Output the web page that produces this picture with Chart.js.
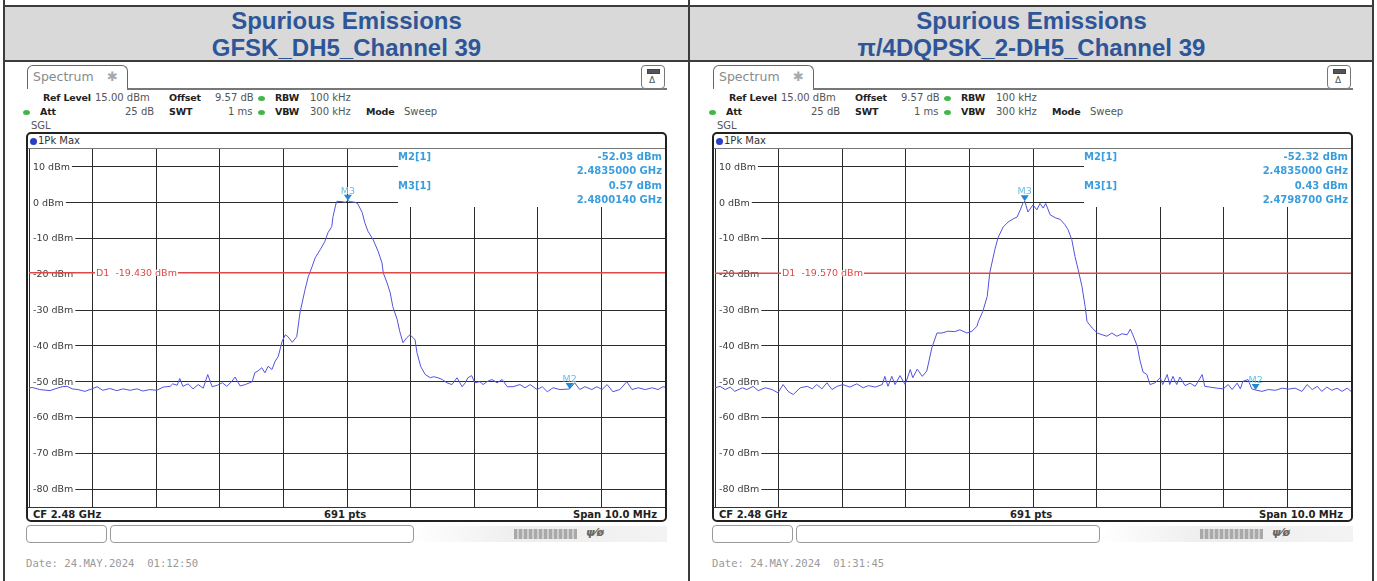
<!DOCTYPE html>
<html>
<head>
<meta charset="utf-8">
<script src="https://cdn.jsdelivr.net/npm/chart.js@4.4.1/dist/chart.umd.min.js"></script>
<style>
html, body { margin: 0; padding: 0; background: #fff; }
body { width: 1377px; height: 581px; position: relative; overflow: hidden; font-family: "DejaVu Sans", sans-serif; }
.vline { position: absolute; top: 0; width: 2px; height: 581px; background: #3c3c3c; }
.hline { position: absolute; left: 3px; width: 1371px; height: 2px; background: #3c3c3c; }
.head { position: absolute; top: 7px; left: 5px; width: 1367px; height: 54px; background: #d9d9d9; }
.title { position: absolute; top: 7px; width: 683px; font: bold 24px "Liberation Sans", Arial, sans-serif; color: #2e5597; text-align: center; line-height: 27px; }
.panel { position: absolute; top: 0; width: 686px; height: 581px; }
.panel * { position: absolute; box-sizing: border-box; }
.tab { left: 27px; top: 65px; width: 101px; height: 24px; border: 1.5px solid #666; border-bottom: none; border-radius: 6px 6px 0 0; background: #fff; }
.tab span { left: 5px; top: 4px; font-size: 12.5px; color: #8a8a8a; line-height: 14px; }
.tab i { left: 79px; top: 3px; font-style: normal; font-size: 13px; color: #a8a8a8; }
.tabline { left: 127px; top: 88px; width: 540px; height: 1.5px; background: #777; }
.btn { left: 641px; top: 65px; width: 24px; height: 24px; border: 1px solid #777; border-radius: 4px; background: #fff; }
.btn b { left: 5px; top: 3px; width: 13px; height: 5px; background: #555; border: 1px solid #444; }
.btn u { left: 7px; top: 9px; font-size: 9px; text-decoration: none; color: #555; line-height: 10px; }
.t { font-size: 10px; line-height: 12px; color: #555; white-space: pre; }
.t.b { font-weight: bold; font-size: 9.5px; letter-spacing: -0.2px; color: #222; }
.dot { width: 7px; height: 5px; border-radius: 50%; background: #43b649; }
.frame { left: 26px; top: 132px; width: 641px; height: 390px; border: 2px solid #222; border-radius: 5px; }
.bdot { left: 30px; top: 138px; width: 7px; height: 7px; border-radius: 50%; background: #2a3ec8; }
.rule { left: 28px; width: 637px; height: 1px; background: #777; }
.plot { left: 29px; top: 149px; }
.bt { font-weight: bold; font-size: 10px; line-height: 12px; color: #222; white-space: pre; top: 509px; }
.sbox { top: 525px; height: 18px; border: 1px solid #9a9a9a; border-radius: 4px; background: #fff; }
.band { left: 414px; top: 526px; width: 253px; height: 16px; background: linear-gradient(to right, #fff, #eee 40%, #f3f3f3); }
.bars { left: 514px; top: 529px; width: 63px; height: 10px; background: repeating-linear-gradient(to right, #a9a9a9 0 3px, #cfcfcf 3px 5px); }
.icon { left: 586px; top: 527px; font: italic bold 11px "DejaVu Sans"; color: #666; line-height: 12px; }
.date { left: 26px; top: 557px; font: 10.6px "DejaVu Sans Mono", monospace; color: #9a9a9a; white-space: pre; line-height: 12px; }
</style>
</head>
<body>
<div class="head"></div>
<div class="title" style="left:5px">Spurious Emissions<br>GFSK_DH5_Channel 39</div>
<div class="title" style="left:690px">Spurious Emissions<br>π/4DQPSK_2-DH5_Channel 39</div>
<div class="hline" style="top:5px"></div>
<div class="hline" style="top:60px"></div>
<div class="vline" style="left:3px"></div>
<div class="vline" style="left:688px"></div>
<div class="vline" style="left:1372px"></div>

<div class="panel" id="panelA" style="left:0"></div>
<div class="panel" id="panelB" style="left:686px"></div>

<script>
// span: CF 2.48 GHz, 10 MHz wide, ref level 15 dBm, 10 dB/div
const spanStart = 2475;     // MHz
const spanStop = 2485;      // MHz
const refLevel = 15;        // dBm
const bottomLevel = -85;    // dBm
const freqTicks = [2475, 2476, 2477, 2478, 2479, 2480, 2481, 2482, 2483, 2484, 2485];
const levelTicks = [10, 0, -10, -20, -30, -40, -50, -60, -70, -80];

// GFSK DH5, channel 39 (MHz / dBm)
const freqGfsk = [
  2475.00, 2475.05, 2475.17, 2475.33, 2475.41, 2475.52, 2475.60, 2475.68, 2475.77, 2475.88,
  2475.99, 2476.07, 2476.16, 2476.27, 2476.38, 2476.48, 2476.59, 2476.70, 2476.79, 2476.90,
  2477.01, 2477.11, 2477.22, 2477.26, 2477.33, 2477.37, 2477.42, 2477.50, 2477.58, 2477.66,
  2477.74, 2477.81, 2477.88, 2477.96, 2478.04, 2478.11, 2478.19, 2478.24, 2478.32, 2478.40,
  2478.51, 2478.55, 2478.60, 2478.66, 2478.71, 2478.76, 2478.82, 2478.87, 2478.92, 2478.98,
  2479.03, 2479.07, 2479.14, 2479.21, 2479.26, 2479.34, 2479.39, 2479.45, 2479.50, 2479.58,
  2479.65, 2479.70, 2479.76, 2479.78, 2479.83, 2479.84, 2479.92, 2479.97, 2480.014, 2480.05,
  2480.13, 2480.17, 2480.24, 2480.28, 2480.33, 2480.41, 2480.49, 2480.55, 2480.57, 2480.63,
  2480.68, 2480.72, 2480.79, 2480.83, 2480.88, 2480.94, 2480.99, 2481.04, 2481.07, 2481.10,
  2481.16, 2481.23, 2481.31, 2481.36, 2481.43, 2481.50, 2481.57, 2481.65, 2481.73, 2481.81,
  2481.86, 2481.90, 2481.96, 2482.01, 2482.09, 2482.14, 2482.20, 2482.28, 2482.36, 2482.44,
  2482.52, 2482.61, 2482.72, 2482.80, 2482.88, 2482.99, 2483.07, 2483.15, 2483.24, 2483.35,
  2483.50, 2483.58, 2483.66, 2483.74, 2483.85, 2483.93, 2484.01, 2484.09, 2484.18, 2484.29,
  2484.40, 2484.48, 2484.58, 2484.69, 2484.80, 2484.89, 2484.97, 2485.00
];
const levelGfsk = [
  -51.8, -51.6, -52.2, -52.5, -52.0, -51.4, -51.3, -52.0, -52.2, -52.7,
  -52.0, -51.4, -52.4, -51.9, -52.5, -52.0, -52.4, -52.0, -52.6, -52.2,
  -52.4, -51.5, -51.3, -50.6, -51.0, -49.1, -51.3, -50.6, -52.0, -50.8,
  -51.8, -48.0, -51.4, -51.0, -50.3, -51.3, -49.9, -48.7, -51.2, -50.8,
  -50.0, -47.5, -47.0, -46.1, -47.5, -45.7, -46.6, -44.3, -42.9, -38.7,
  -36.9, -37.4, -39.0, -37.4, -30.8, -24.3, -20.7, -17.9, -15.4, -13.1,
  -10.9, -8.4, -6.7, -3.9, 0.0, 0.4, 0.3, 0.1, 0.57, 0.3,
  0.1, -0.3, -2.8, -5.6, -8.0, -10.3, -13.6, -16.8, -19.6, -22.4,
  -25.2, -29.0, -32.7, -36.0, -39.1, -37.7, -36.9, -37.7, -38.3, -41.9,
  -45.8, -48.0, -48.9, -48.6, -48.9, -49.4, -50.3, -50.8, -48.9, -51.4,
  -50.3, -48.9, -48.3, -50.3, -50.0, -50.8, -50.0, -49.4, -50.3, -49.4,
  -51.4, -51.4, -50.8, -51.7, -50.8, -52.2, -51.4, -52.8, -51.7, -52.2,
  -52.03, -50.3, -52.2, -51.4, -52.2, -51.4, -52.2, -50.8, -52.8, -52.2,
  -50.0, -52.2, -51.7, -52.2, -51.7, -52.2, -51.4, -51.5
];

// pi/4 DQPSK 2-DH5, channel 39 (MHz / dBm)
const freqDqpsk = [
  2475.00, 2475.08, 2475.16, 2475.24, 2475.31, 2475.43, 2475.50, 2475.60, 2475.68, 2475.79,
  2475.90, 2475.99, 2476.07, 2476.15, 2476.23, 2476.34, 2476.45, 2476.53, 2476.60, 2476.68,
  2476.76, 2476.84, 2476.92, 2477.01, 2477.12, 2477.23, 2477.33, 2477.41, 2477.52, 2477.63,
  2477.67, 2477.72, 2477.78, 2477.83, 2477.91, 2477.99, 2478.07, 2478.11, 2478.18, 2478.26,
  2478.33, 2478.41, 2478.49, 2478.57, 2478.66, 2478.77, 2478.85, 2478.96, 2479.04, 2479.12,
  2479.14, 2479.21, 2479.28, 2479.32, 2479.40, 2479.45, 2479.53, 2479.61, 2479.69, 2479.75,
  2479.80, 2479.84, 2479.87, 2479.92, 2480.00, 2480.06, 2480.11, 2480.16, 2480.20, 2480.27,
  2480.35, 2480.43, 2480.50, 2480.55, 2480.61, 2480.66, 2480.71, 2480.77, 2480.82, 2480.85,
  2480.93, 2481.01, 2481.09, 2481.16, 2481.24, 2481.32, 2481.40, 2481.48, 2481.53, 2481.57,
  2481.64, 2481.68, 2481.73, 2481.79, 2481.84, 2481.92, 2482.00, 2482.04, 2482.11, 2482.15,
  2482.20, 2482.26, 2482.31, 2482.39, 2482.47, 2482.55, 2482.66, 2482.70, 2482.78, 2482.89,
  2482.99, 2483.07, 2483.13, 2483.21, 2483.26, 2483.30, 2483.38, 2483.44, 2483.50, 2483.60,
  2483.70, 2483.81, 2483.92, 2484.01, 2484.12, 2484.23, 2484.31, 2484.39, 2484.47, 2484.54,
  2484.62, 2484.70, 2484.78, 2484.86, 2484.94, 2485.00
];
const levelDqpsk = [
  -51.7, -51.3, -52.2, -51.5, -52.7, -51.7, -52.2, -51.3, -52.5, -51.7,
  -52.2, -53.1, -50.8, -52.7, -53.6, -51.7, -51.3, -52.0, -50.8, -52.0,
  -50.3, -52.2, -51.3, -50.8, -51.5, -50.6, -51.7, -51.1, -51.5, -50.8,
  -48.5, -51.3, -48.5, -50.8, -48.3, -50.8, -46.6, -48.9, -46.5, -48.5,
  -47.0, -40.5, -36.4, -36.4, -35.9, -36.0, -35.5, -36.4, -35.9, -34.5,
  -33.2, -30.4, -26.2, -19.6, -13.1, -9.8, -6.8, -5.4, -4.5, -4.0,
  -2.0, -0.2, 0.43, -2.6, -0.6, -2.0, -0.2, -1.5, -0.2, -3.4,
  -4.2, -4.7, -6.1, -7.5, -10.3, -15.0, -18.7, -23.4, -29.0, -33.2,
  -35.0, -36.4, -36.9, -37.3, -36.4, -37.3, -36.6, -36.9, -35.3, -36.9,
  -40.1, -43.9, -47.3, -48.0, -50.8, -50.3, -48.9, -50.8, -48.0, -50.8,
  -48.5, -50.8, -48.7, -51.1, -50.4, -51.3, -48.0, -51.3, -51.5, -51.8,
  -52.0, -50.8, -52.2, -50.4, -52.0, -49.9, -49.4, -52.0, -52.32, -52.7,
  -52.2, -52.4, -51.8, -52.1, -51.8, -52.7, -50.8, -52.2, -51.3, -52.7,
  -51.5, -52.4, -51.8, -52.7, -51.8, -52.7
];

// markers: M2 at the band edge, M3 at the peak
const markerNames = ['M2', 'M3'];
const markerFreqGfsk = [2483.5, 2480.014];
const markerLevelGfsk = [-52.03, 0.57];
const markerFreqDqpsk = [2483.5, 2479.87];
const markerLevelDqpsk = [-52.32, 0.43];
const displayLineGfsk = -19.43;
const displayLineDqpsk = -19.57;

// instrument header / footer around each trace window
function panelHtml(canvasId, timeText) {
  return `
  <div class="tab"><span>Spectrum</span><i>✱</i></div>
  <div class="tabline"></div>
  <div class="btn"><b></b><u>Δ</u></div>
  <div class="t b" style="left:43px;top:92px">Ref Level</div>
  <div class="t" style="left:95px;top:92px">15.00 dBm</div>
  <div class="t b" style="left:169px;top:92px">Offset</div>
  <div class="t" style="left:215px;top:92px">9.57 dB</div>
  <div class="dot" style="left:258px;top:96px"></div>
  <div class="t b" style="left:275px;top:92px">RBW</div>
  <div class="t" style="left:310px;top:92px">100 kHz</div>
  <div class="dot" style="left:23px;top:110px"></div>
  <div class="t b" style="left:40px;top:106px">Att</div>
  <div class="t" style="left:125px;top:106px">25 dB</div>
  <div class="t b" style="left:169px;top:106px">SWT</div>
  <div class="t" style="left:228px;top:106px">1 ms</div>
  <div class="dot" style="left:258px;top:110px"></div>
  <div class="t b" style="left:275px;top:106px">VBW</div>
  <div class="t" style="left:310px;top:106px">300 kHz</div>
  <div class="t b" style="left:366px;top:106px">Mode</div>
  <div class="t" style="left:404px;top:106px">Sweep</div>
  <div class="t" style="left:31px;top:120px">SGL</div>
  <div class="frame"></div>
  <div class="bdot"></div>
  <div class="t" style="left:38px;top:135px;color:#333">1Pk Max</div>
  <div class="rule" style="top:148px"></div>
  <canvas class="plot" id="${canvasId}" width="636" height="358"></canvas>
  <div class="rule" style="top:507px;background:#333"></div>
  <div class="bt" style="left:33px">CF 2.48 GHz</div>
  <div class="bt" style="left:324px">691 pts</div>
  <div class="bt" style="left:573px">Span 10.0 MHz</div>
  <div class="sbox" style="left:26px;width:81px"></div>
  <div class="sbox" style="left:110px;width:304px"></div>
  <div class="band"></div>
  <div class="bars"></div>
  <div class="icon">ψ⁄ø</div>
  <div class="date">Date: 24.MAY.2024  ${timeText}</div>`;
}

document.getElementById('panelA').innerHTML = panelHtml('specA', '01:12:50');
document.getElementById('panelB').innerHTML = panelHtml('specB', '01:31:45');

// level labels, D1 line, markers and marker table drawn onto the trace window
function rsOverlay(markers, d1) {
  return {
    id: 'rsOverlay',
    beforeDatasetsDraw(chart) {
      const { ctx, chartArea: a, scales: { y } } = chart;
      ctx.save();
      // the marker table covers the upper right part of the grid
      ctx.fillStyle = '#fff';
      ctx.fillRect(369, a.top, a.right - 369, 58);
      ctx.font = '9.5px "DejaVu Sans"';
      ctx.textBaseline = 'middle';
      levelTicks.forEach(v => {
        const py = y.getPixelForValue(v);
        const txt = v + ' dBm';
        const w = ctx.measureText(txt).width;
        ctx.fillStyle = '#fff';
        ctx.fillRect(a.left + 1, py - 5, w + 5, 10);
        ctx.fillStyle = '#3a3a3a';
        ctx.fillText(txt, a.left + 4, py + 0.5);
      });
      ctx.restore();
    },
    afterDatasetsDraw(chart) {
      const { ctx, chartArea: a, scales: { x, y } } = chart;
      ctx.save();
      const dy = y.getPixelForValue(d1) + 0.5;
      ctx.strokeStyle = '#e04848';
      ctx.lineWidth = 1.6;
      ctx.beginPath();
      ctx.moveTo(a.left, dy);
      ctx.lineTo(a.right, dy);
      ctx.stroke();
      ctx.font = '9.5px "DejaVu Sans"';
      ctx.textBaseline = 'middle';
      const d1txt = 'D1  ' + d1.toFixed(3) + ' dBm';
      const w = ctx.measureText(d1txt).width;
      ctx.fillStyle = '#fff';
      ctx.fillRect(66, dy - 3, w + 2, 6);
      ctx.fillStyle = '#e04848';
      ctx.fillText(d1txt, 67, dy + 0.5);

      markers.forEach(m => {
        const px = x.getPixelForValue(m.f);
        const py = y.getPixelForValue(m.v);
        ctx.fillStyle = '#1e8ad2';
        ctx.beginPath();
        ctx.moveTo(px - 4, py - 6);
        ctx.lineTo(px + 4, py - 6);
        ctx.lineTo(px, py);
        ctx.closePath();
        ctx.fill();
        ctx.fillStyle = '#66bfe6';
        ctx.textAlign = 'center';
        ctx.textBaseline = 'alphabetic';
        ctx.font = '9.5px "DejaVu Sans"';
        ctx.fillText(m.name, px, py - 7);
      });

      ctx.font = 'bold 10px "DejaVu Sans"';
      ctx.fillStyle = '#3a9ede';
      ctx.textBaseline = 'middle';
      let row = a.top + 8;
      markers.forEach(m => {
        ctx.textAlign = 'left';
        ctx.fillText(m.name + '[1]', 369, row);
        ctx.textAlign = 'right';
        ctx.fillText(m.v.toFixed(2) + ' dBm', a.right - 3, row);
        ctx.fillText((m.f / 1000).toFixed(7) + ' GHz', a.right - 3, row + 14);
        row += 29;
      });
      ctx.restore();
    }
  };
}

function drawSpectrum(canvasId, freqs, levels, mFreqs, mLevels, d1) {
  const pts = freqs.map((f, i) => ({ x: f, y: levels[i] }));
  const markers = markerNames.map((n, i) => ({ name: n, f: mFreqs[i], v: mLevels[i] }));
  const gridLine = { color: '#2c2c2c', lineWidth: 1, drawTicks: false };
  // the display line sits on top of the nearest level line, which is left out
  const levelGrid = {
    color: c => (c.tick && Math.abs(c.tick.value - d1) < 1) ? 'rgba(0,0,0,0)' : '#2c2c2c',
    lineWidth: 1,
    drawTicks: false
  };
  return new Chart(document.getElementById(canvasId), {
    type: 'line',
    data: {
      datasets: [{
        data: pts,
        borderColor: '#5252e0',
        borderWidth: 1,
        pointRadius: 0,
        tension: 0,
        fill: false
      }]
    },
    options: {
      responsive: false,
      animation: false,
      layout: { padding: 0 },
      plugins: { legend: { display: false }, tooltip: { enabled: false } },
      scales: {
        x: {
          type: 'linear', min: spanStart, max: spanStop,
          afterBuildTicks: s => { s.ticks = freqTicks.map(v => ({ value: v })); },
          ticks: { display: false },
          grid: gridLine,
          border: { display: false }
        },
        y: {
          min: bottomLevel, max: refLevel,
          afterBuildTicks: s => { s.ticks = levelTicks.map(v => ({ value: v })); },
          ticks: { display: false },
          grid: levelGrid,
          border: { display: false }
        }
      }
    },
    plugins: [rsOverlay(markers, d1)]
  });
}

drawSpectrum('specA', freqGfsk, levelGfsk, markerFreqGfsk, markerLevelGfsk, displayLineGfsk);
drawSpectrum('specB', freqDqpsk, levelDqpsk, markerFreqDqpsk, markerLevelDqpsk, displayLineDqpsk);
</script>
</body>
</html>
